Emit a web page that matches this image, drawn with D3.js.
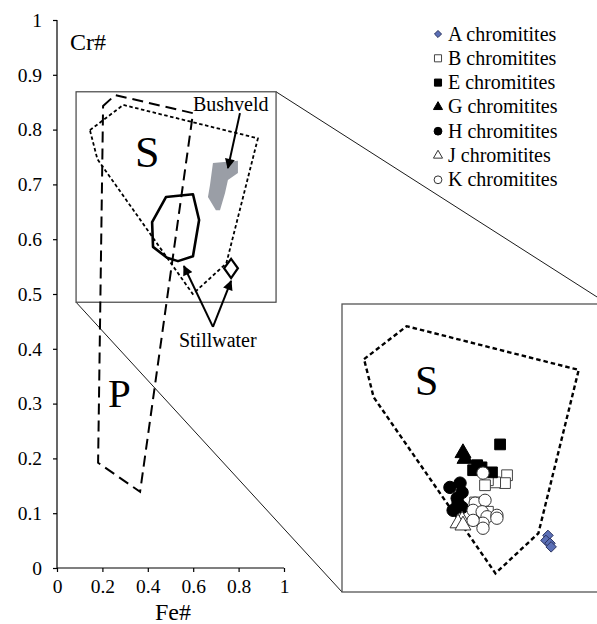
<!DOCTYPE html>
<html>
<head>
<meta charset="UTF-8">
<title>Cr# vs Fe#</title>
<script src="https://d3js.org/d3.v7.min.js"></script>
<style>
  * { margin: 0; padding: 0; box-sizing: border-box; }
  body { background: #fff; }
</style>
</head>
<body>
<div id="chart"></div>
<script>
// ---- data (Fe#, Cr#) ----
const xTicks = [0, 0.2, 0.4, 0.6, 0.8, 1];
const yTicks = [0, 0.1, 0.2, 0.3, 0.4, 0.5, 0.6, 0.7, 0.8, 0.9, 1];

// field outlines
const fieldS = [[0.145, 0.799], [0.292, 0.845], [0.885, 0.784], [0.746, 0.556], [0.598, 0.500], [0.178, 0.746]];
const fieldP = [[0.203, 0.843], [0.256, 0.863], [0.599, 0.830], [0.366, 0.139], [0.181, 0.192]];
const envelope = [[0.480, 0.677], [0.599, 0.682], [0.626, 0.635], [0.599, 0.569], [0.533, 0.560],
                  [0.485, 0.566], [0.423, 0.586], [0.419, 0.631]];
const bushveld = [[0.687, 0.739], [0.797, 0.743], [0.797, 0.721], [0.753, 0.708], [0.740, 0.684],
                  [0.718, 0.653], [0.700, 0.653], [0.665, 0.677], [0.674, 0.699]];
const aField = [[0.767, 0.564], [0.797, 0.547], [0.767, 0.529], [0.736, 0.547]];

// samples
const groupNames = ["A chromitites", "B chromitites", "E chromitites", "G chromitites",
                    "H chromitites", "J chromitites", "K chromitites"];
const samplesA = [[0.779, 0.553], [0.772, 0.546], [0.786, 0.542], [0.790, 0.537]];
const samplesB = [[0.638, 0.637], [0.631, 0.626], [0.597, 0.627], [0.572, 0.630], [0.562, 0.623],
                  [0.528, 0.599], [0.572, 0.586]];
const samplesE = [[0.614, 0.680], [0.535, 0.651], [0.586, 0.641], [0.521, 0.644], [0.550, 0.648]];
const samplesG = [[0.486, 0.668], [0.493, 0.660]];
const samplesH = [[0.441, 0.620], [0.476, 0.626], [0.483, 0.613], [0.466, 0.605], [0.469, 0.598],
                  [0.452, 0.588], [0.483, 0.592]];
const samplesJ = [[0.483, 0.574], [0.469, 0.570], [0.486, 0.567]];
const samplesK = [[0.555, 0.640], [0.528, 0.598], [0.562, 0.602], [0.521, 0.588], [0.552, 0.586],
                  [0.569, 0.579], [0.603, 0.581], [0.603, 0.577], [0.555, 0.570], [0.555, 0.563],
                  [0.521, 0.574]];

// ---- layout ----
const FONT = "Liberation Serif";
const W = 597, H = 624;
const svg = d3.select("#chart").append("svg")
    .attr("width", W).attr("height", H)
    .attr("font-family", FONT);

const x = d3.scaleLinear().domain([0, 1]).range([57, 284]);
const y = d3.scaleLinear().domain([0, 1]).range([568, 20]);

// enlarged window
const xz = d3.scaleLinear().domain([0.069, 0.986]).range([342, 608]);
const yz = d3.scaleLinear().domain([0.474, 0.876]).range([592, 304]);
const inset = { x0: 0.084, x1: 0.965, y0: 0.485, y1: 0.869 };

const label = (px, py, txt, size) => svg.append("text")
    .attr("x", px).attr("y", py)
    .style("font-family", FONT).style("font-size", size + "px")
    .attr("fill", "#000").text(txt);

svg.append("defs").append("marker")
    .attr("id", "arrow")
    .attr("viewBox", "0 0 10 10")
    .attr("refX", 9).attr("refY", 5)
    .attr("markerUnits", "userSpaceOnUse")
    .attr("markerWidth", 11).attr("markerHeight", 10)
    .attr("orient", "auto")
    .append("path").attr("d", "M0,0 L10,5 L0,10 z").attr("fill", "#000");

// connector lines
svg.append("line")
    .attr("x1", x(inset.x1)).attr("y1", y(inset.y1))
    .attr("x2", xz.range()[1]).attr("y2", yz.range()[1])
    .attr("stroke", "#000").attr("stroke-width", 0.9);
svg.append("line")
    .attr("x1", x(inset.x0)).attr("y1", y(inset.y0))
    .attr("x2", xz.range()[0]).attr("y2", yz.range()[0])
    .attr("stroke", "#000").attr("stroke-width", 0.9);

// small inset rectangle
svg.append("rect")
    .attr("x", x(inset.x0)).attr("y", y(inset.y1))
    .attr("width", x(inset.x1) - x(inset.x0))
    .attr("height", y(inset.y0) - y(inset.y1))
    .attr("fill", "#fff").attr("stroke", "#444").attr("stroke-width", 1.2);

// axes
const yAxis = svg.append("g")
    .attr("transform", `translate(${x(0)},0)`)
    .call(d3.axisLeft(y).tickValues(yTicks).tickSize(4).tickPadding(11).tickFormat(d => String(d)));
const xAxis = svg.append("g")
    .attr("transform", `translate(0,${y(0)})`)
    .call(d3.axisBottom(x).tickValues(xTicks).tickSize(4).tickPadding(7).tickFormat(d => String(d)));
[xAxis, yAxis].forEach(g => {
    g.attr("font-family", FONT).attr("font-size", null);
    g.selectAll("path, line").attr("stroke", "#000").attr("stroke-width", 1.2);
    g.selectAll("text").style("font-family", FONT).style("font-size", "19.5px").attr("fill", "#000");
});
xAxis.select(".domain").attr("d", `M${x(0)},0H${x(1)}`);
yAxis.select(".domain").attr("d", `M0,${y(0)}V${y(1)}`);

label(70, 50, "Cr#", 24);
label(173, 620, "Fe#", 24).attr("text-anchor", "middle");

// main plot fields
const poly = (sx, sy) => d3.line().x(d => sx(d[0])).y(d => sy(d[1])).curve(d3.curveLinearClosed);

svg.append("path").attr("d", poly(x, y)(bushveld)).attr("fill", "#9a9ea6").attr("stroke", "none");
svg.append("path").attr("d", poly(x, y)(fieldS))
    .attr("fill", "none").attr("stroke", "#000").attr("stroke-width", 1.8).attr("stroke-dasharray", "3.5,2.5");
svg.append("path").attr("d", poly(x, y)(fieldP))
    .attr("fill", "none").attr("stroke", "#000").attr("stroke-width", 2).attr("stroke-dasharray", "11,6");
svg.append("path").attr("d", poly(x, y)(envelope))
    .attr("fill", "none").attr("stroke", "#000").attr("stroke-width", 2.6).attr("stroke-linejoin", "round");
svg.append("path").attr("d", poly(x, y)(aField))
    .attr("fill", "#fff").attr("stroke", "#000").attr("stroke-width", 2.2);

// annotations
const arrows = [
    [[0.806, 0.830], [0.753, 0.730]],
    [[0.687, 0.440], [0.559, 0.551]],
    [[0.687, 0.440], [0.767, 0.524]]
];
svg.selectAll(".arrow").data(arrows).join("line")
    .attr("x1", d => x(d[0][0])).attr("y1", d => y(d[0][1]))
    .attr("x2", d => x(d[1][0])).attr("y2", d => y(d[1][1]))
    .attr("stroke", "#000").attr("stroke-width", 2)
    .attr("marker-end", "url(#arrow)");

label(x(0.599), y(0.834), "Bushveld", 20);
label(x(0.537), y(0.403), "Stillwater", 20);
label(x(0.344), y(0.732), "S", 44);
label(x(0.225), y(0.294), "P", 41);

// enlarged window
svg.append("rect")
    .attr("x", xz.range()[0]).attr("y", yz.range()[1])
    .attr("width", xz.range()[1] - xz.range()[0])
    .attr("height", yz.range()[0] - yz.range()[1])
    .attr("fill", "#fff").attr("stroke", "#555").attr("stroke-width", 1.3);
svg.append("path").attr("d", poly(xz, yz)(fieldS))
    .attr("fill", "none").attr("stroke", "#000").attr("stroke-width", 2.4).attr("stroke-dasharray", "4.5,3");
label(xz(0.321), yz(0.749), "S", 42);

const groups = [
    { name: groupNames[1], data: samplesB, type: d3.symbolSquare, fill: "#fff", stroke: "#444", size: 115, lsize: 50 },
    { name: groupNames[2], data: samplesE, type: d3.symbolSquare, fill: "#000", stroke: "#000", size: 115, lsize: 50 },
    { name: groupNames[3], data: samplesG, type: d3.symbolTriangle, fill: "#000", stroke: "#000", size: 110, lsize: 36 },
    { name: groupNames[4], data: samplesH, type: d3.symbolCircle, fill: "#000", stroke: "#000", size: 120, lsize: 48 },
    { name: groupNames[5], data: samplesJ, type: d3.symbolTriangle, fill: "#fff", stroke: "#333", size: 110, lsize: 36 },
    { name: groupNames[6], data: samplesK, type: d3.symbolCircle, fill: "#fff", stroke: "#333", size: 120, lsize: 48 },
    { name: groupNames[0], data: samplesA, type: d3.symbolDiamond2, fill: "#5b6fb6", stroke: "#2a3360", size: 70, lsize: 32 }
];

groups.forEach(g => {
    svg.append("g").selectAll("path").data(g.data).join("path")
        .attr("transform", d => `translate(${xz(d[0])},${yz(d[1])})`)
        .attr("d", d3.symbol().type(g.type).size(g.size))
        .attr("fill", g.fill).attr("stroke", g.stroke).attr("stroke-width", 1);
});

// legend
const legend = svg.append("g").attr("transform", "translate(438,34)");
groupNames.forEach((name, i) => {
    const g = groups.find(d => d.name === name);
    const row = legend.append("g").attr("transform", `translate(0,${i * 24.3})`);
    row.append("path")
        .attr("d", d3.symbol().type(g.type).size(g.lsize))
        .attr("fill", g.fill).attr("stroke", g.stroke).attr("stroke-width", 1);
    row.append("text").attr("x", 10).attr("y", 6.5)
        .style("font-family", FONT).style("font-size", "20px")
        .attr("fill", "#000").text(name);
});
</script>
</body>
</html>
